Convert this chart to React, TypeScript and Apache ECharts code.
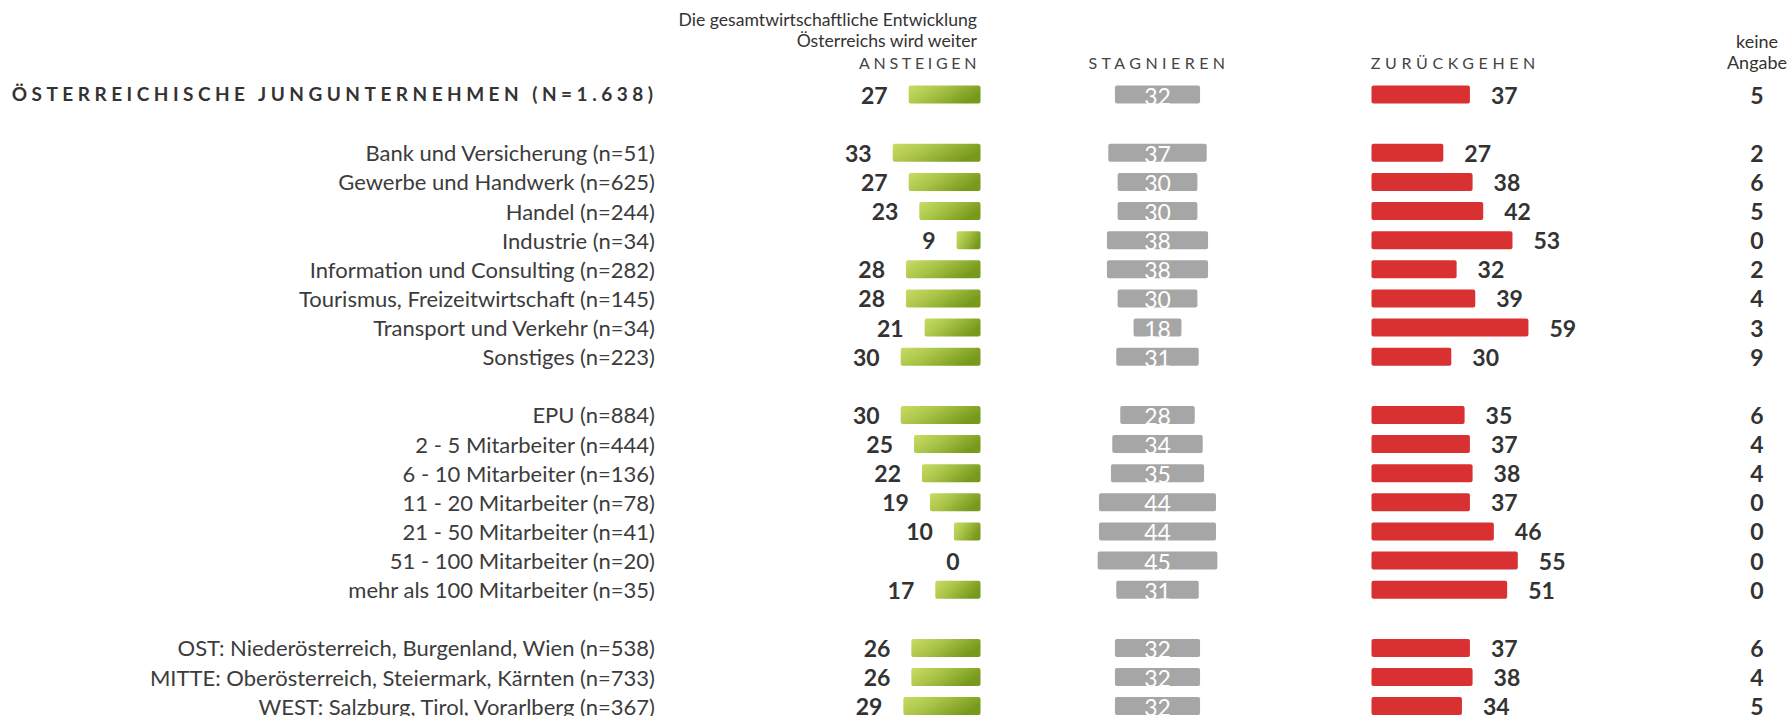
import React, { useEffect, useRef } from "react";
import * as echarts from "echarts";

// ---------- data ----------
const headerLabel = "ÖSTERREICHISCHE JUNGUNTERNEHMEN (N=1.638)";
const categories: string[] = [
  headerLabel,
  "",
  "Bank und Versicherung (n=51)",
  "Gewerbe und Handwerk (n=625)",
  "Handel (n=244)",
  "Industrie (n=34)",
  "Information und Consulting (n=282)",
  "Tourismus, Freizeitwirtschaft (n=145)",
  "Transport und Verkehr (n=34)",
  "Sonstiges (n=223)",
  "",
  "EPU (n=884)",
  "2 - 5 Mitarbeiter (n=444)",
  "6 - 10 Mitarbeiter (n=136)",
  "11 - 20 Mitarbeiter (n=78)",
  "21 - 50 Mitarbeiter (n=41)",
  "51 - 100 Mitarbeiter (n=20)",
  "mehr als 100 Mitarbeiter (n=35)",
  "",
  "OST: Niederösterreich, Burgenland, Wien (n=538)",
  "MITTE: Oberösterreich, Steiermark, Kärnten (n=733)",
  "WEST: Salzburg, Tirol, Vorarlberg (n=367)",
];
const ansteigen = [27, null, 33, 27, 23, 9, 28, 28, 21, 30, null, 30, 25, 22, 19, 10, 0, 17, null, 26, 26, 29];
const stagnieren = [32, null, 37, 30, 30, 38, 38, 30, 18, 31, null, 28, 34, 35, 44, 44, 45, 31, null, 32, 32, 32];
const zurueckgehen = [37, null, 27, 38, 42, 53, 32, 39, 59, 30, null, 35, 37, 38, 37, 46, 55, 51, null, 37, 38, 34];
const keineAngabe = [5, null, 2, 6, 5, 0, 2, 4, 3, 9, null, 6, 4, 4, 0, 0, 0, 0, null, 6, 4, 5];

const titleLines = ["Die gesamtwirtschaftliche Entwicklung", "Österreichs wird weiter"];
const colAnsteigen = "ANSTEIGEN";
const colStagnieren = "STAGNIEREN";
const colZurueck = "ZURÜCKGEHEN";
const colKeine = ["keine", "Angabe"];

// ---------- layout ----------
const W = 1791;
const H = 716;
const PX = 2.66; // px per percentage point
const ROW = 29.12;
const GRID_TOP = 94.6 - ROW / 2;
const GRID_H = ROW * categories.length;
const BAR_H = 18;
const FONT = "Lato, 'Noto Sans', sans-serif";
const TXT = "#333333";

const GREEN_RIGHT = 980.5;
const GREEN_MAX = 40;
const GRAY_CENTER = 1157.5;
const GRAY_HALF = 25;
const RED_LEFT = 1371.5;
const RED_MAX = 60;

const spacingTargets: Record<string, number> = {
  [headerLabel]: 641,
  [colAnsteigen]: 117.5,
  [colStagnieren]: 136.5,
  [colZurueck]: 164.5,
};

export default function App() {
  const ref = useRef<HTMLDivElement>(null);
  useEffect(() => {
    const el = ref.current!;
    const chart = echarts.init(el, null, { renderer: "svg", width: W, height: H });

    const greenLeft = GREEN_RIGHT - GREEN_MAX * PX;
    const grids = [
      { left: greenLeft, width: GREEN_MAX * PX, top: GRID_TOP, height: GRID_H },
      { left: GRAY_CENTER - GRAY_HALF * PX, width: 2 * GRAY_HALF * PX, top: GRID_TOP, height: GRID_H },
      { left: RED_LEFT, width: RED_MAX * PX, top: GRID_TOP, height: GRID_H },
      { left: 1737, width: 40, top: GRID_TOP, height: GRID_H },
    ].map((g) => ({ ...g, containLabel: false, outerBoundsMode: "none" }));

    const hidden = {
      axisLine: { show: false },
      axisTick: { show: false },
      splitLine: { show: false },
      axisLabel: { show: false },
    };

    const xAxes = [
      { type: "value", gridIndex: 0, min: 0, max: GREEN_MAX, inverse: true, ...hidden },
      { type: "value", gridIndex: 1, min: -GRAY_HALF, max: GRAY_HALF, ...hidden },
      { type: "value", gridIndex: 2, min: 0, max: RED_MAX, ...hidden },
      { type: "value", gridIndex: 3, min: 0, max: 1, ...hidden },
    ];
    const yAxes = [0, 1, 2, 3].map((i) => ({
      type: "category",
      gridIndex: i,
      data: categories,
      inverse: true,
      ...hidden,
      axisLabel:
        i === 0
          ? {
              show: true,
              interval: 0,
              margin: greenLeft - 655,
              fontFamily: FONT,
              fontSize: 22,
              color: "#3c3c3c",
              formatter: (v: string, idx: number) => (idx === 0 ? "" : v),
            }
          : { show: false },
    }));

    const valueLabel = {
      show: true,
      fontFamily: FONT,
      fontSize: 23,
      fontWeight: "bold",
      color: TXT,
      distance: 21,
    };

    const grayData = stagnieren
      .map((v, i) => (v == null ? null : [v, i]))
      .filter((d) => d !== null);
    const keineData = keineAngabe
      .map((v, i) => (v == null ? null : [v, i]))
      .filter((d) => d !== null);

    const option: any = {
      animation: false,
      backgroundColor: "#ffffff",
      grid: grids,
      xAxis: xAxes,
      yAxis: yAxes,
      series: [
        {
          type: "bar",
          name: "ansteigen",
          xAxisIndex: 0,
          yAxisIndex: 0,
          data: ansteigen,
          barWidth: BAR_H,
          itemStyle: {
            borderRadius: 2,
            color: new echarts.graphic.LinearGradient(0, 0, 1, 0.4, [
              { offset: 0, color: "#c8dc65" },
              { offset: 0.45, color: "#a9c448" },
              { offset: 1, color: "#789a1c" },
            ]),
          },
          label: { ...valueLabel, position: "left" },
        },
        {
          type: "custom",
          name: "stagnieren",
          xAxisIndex: 1,
          yAxisIndex: 1,
          data: grayData,
          encode: { x: 0, y: 1 },
          renderItem: (params: any, api: any) => {
            const v = api.value(0);
            const row = api.value(1);
            const p0 = api.coord([-v / 2, row]);
            const p1 = api.coord([v / 2, row]);
            return {
              type: "group",
              children: [
                {
                  type: "rect",
                  shape: { x: p0[0], y: p0[1] - BAR_H / 2, width: p1[0] - p0[0], height: BAR_H, r: 2 },
                  style: { fill: "#a6a6a6" },
                },
                {
                  type: "text",
                  style: {
                    text: String(v),
                    x: (p0[0] + p1[0]) / 2,
                    y: p0[1] + 1,
                    align: "center",
                    verticalAlign: "middle",
                    fill: "#ffffff",
                    font: `23px ${FONT}`,
                  },
                },
              ],
            };
          },
        },
        {
          type: "bar",
          name: "zurueckgehen",
          xAxisIndex: 2,
          yAxisIndex: 2,
          data: zurueckgehen,
          barWidth: BAR_H,
          itemStyle: { borderRadius: 2, color: "#d93131" },
          label: { ...valueLabel, position: "right" },
        },
        {
          type: "custom",
          name: "keine Angabe",
          xAxisIndex: 3,
          yAxisIndex: 3,
          data: keineData,
          encode: { x: 0, y: 1 },
          renderItem: (params: any, api: any) => {
            const v = api.value(0);
            const row = api.value(1);
            const p = api.coord([0.5, row]);
            return {
              type: "text",
              style: {
                text: String(v),
                x: p[0],
                y: p[1],
                align: "center",
                verticalAlign: "middle",
                fill: TXT,
                font: `bold 23px ${FONT}`,
              },
            };
          },
        },
      ],
      graphic: [
        {
          type: "text",
          left: 11.7,
          top: GRID_TOP + ROW / 2 - 11,
          style: { text: headerLabel, font: `bold 19px ${FONT}`, fill: TXT },
        },
        {
          type: "text",
          x: 977,
          y: 19.5,
          style: { text: titleLines[0], font: `17.6px ${FONT}`, fill: TXT, align: "right", verticalAlign: "middle" },
        },
        {
          type: "text",
          x: 977,
          y: 40,
          style: { text: titleLines[1], font: `17.6px ${FONT}`, fill: TXT, align: "right", verticalAlign: "middle" },
        },
        {
          type: "text",
          x: 859,
          y: 62.5,
          style: { text: colAnsteigen, font: `16px ${FONT}`, fill: "#444444", align: "left", verticalAlign: "middle" },
        },
        {
          type: "text",
          x: 1088.5,
          y: 62.5,
          style: { text: colStagnieren, font: `16px ${FONT}`, fill: "#444444", align: "left", verticalAlign: "middle" },
        },
        {
          type: "text",
          x: 1370.8,
          y: 62.5,
          style: { text: colZurueck, font: `16px ${FONT}`, fill: "#444444", align: "left", verticalAlign: "middle" },
        },
        {
          type: "text",
          x: 1757,
          y: 41,
          style: { text: colKeine[0], font: `18px ${FONT}`, fill: TXT, align: "center", verticalAlign: "middle" },
        },
        {
          type: "text",
          x: 1757,
          y: 62,
          style: { text: colKeine[1], font: `18px ${FONT}`, fill: TXT, align: "center", verticalAlign: "middle" },
        },
      ],
    };

    chart.setOption(option);

    const applySpacing = () => {
      const texts = el.querySelectorAll("text");
      texts.forEach((t: any) => {
        const content = t.textContent || "";
        const target = spacingTargets[content];
        if (target === undefined || t.getAttribute("data-ls") === "1") return;
        const len = t.getComputedTextLength();
        const n = content.length;
        const s = (target - len) / (n - 1);
        t.setAttribute("letter-spacing", s.toFixed(2) + "px");
        t.setAttribute("data-ls", "1");
      });
    };
    applySpacing();
    chart.on("finished", applySpacing);
    const raf = requestAnimationFrame(applySpacing);

    return () => {
      cancelAnimationFrame(raf);
      chart.dispose();
    };
  }, []);

  return (
    <div
      ref={ref}
      style={{ position: "fixed", left: 0, top: 0, width: W, height: H, background: "#fff" }}
    />
  );
}
